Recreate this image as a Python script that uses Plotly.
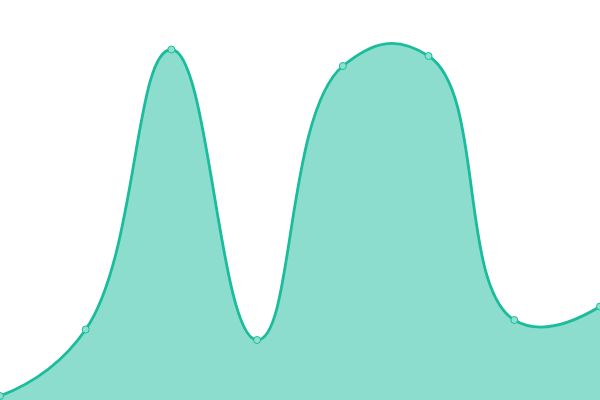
import plotly.graph_objects as go

categories = [0, 1, 2, 3, 4, 5, 6, 7]
values = [4, 70.5, 350.5, 60, 334, 344, 80, 93.5]

fig = go.Figure()
fig.add_trace(go.Scatter(
    x=categories, y=values, mode="lines+markers",
    line=dict(shape="spline", smoothing=1.3, color="#1abc9c", width=2.8),
    fill="tozeroy", fillcolor="rgba(26,188,156,0.5)",
    marker=dict(size=7, color="#8ee0cf", line=dict(color="#1abc9c", width=1)),
    cliponaxis=False,
))
fig.update_layout(
    width=600, height=400, margin=dict(l=0, r=0, t=0, b=0),
    paper_bgcolor="white", plot_bgcolor="white", showlegend=False,
    xaxis=dict(range=[0, 7], visible=False),
    yaxis=dict(range=[0, 400], visible=False),
)
fig.write_html("out.html", config={"displayModeBar": False},
               post_script="document.body.style.margin='0';document.body.style.overflow='hidden';")
